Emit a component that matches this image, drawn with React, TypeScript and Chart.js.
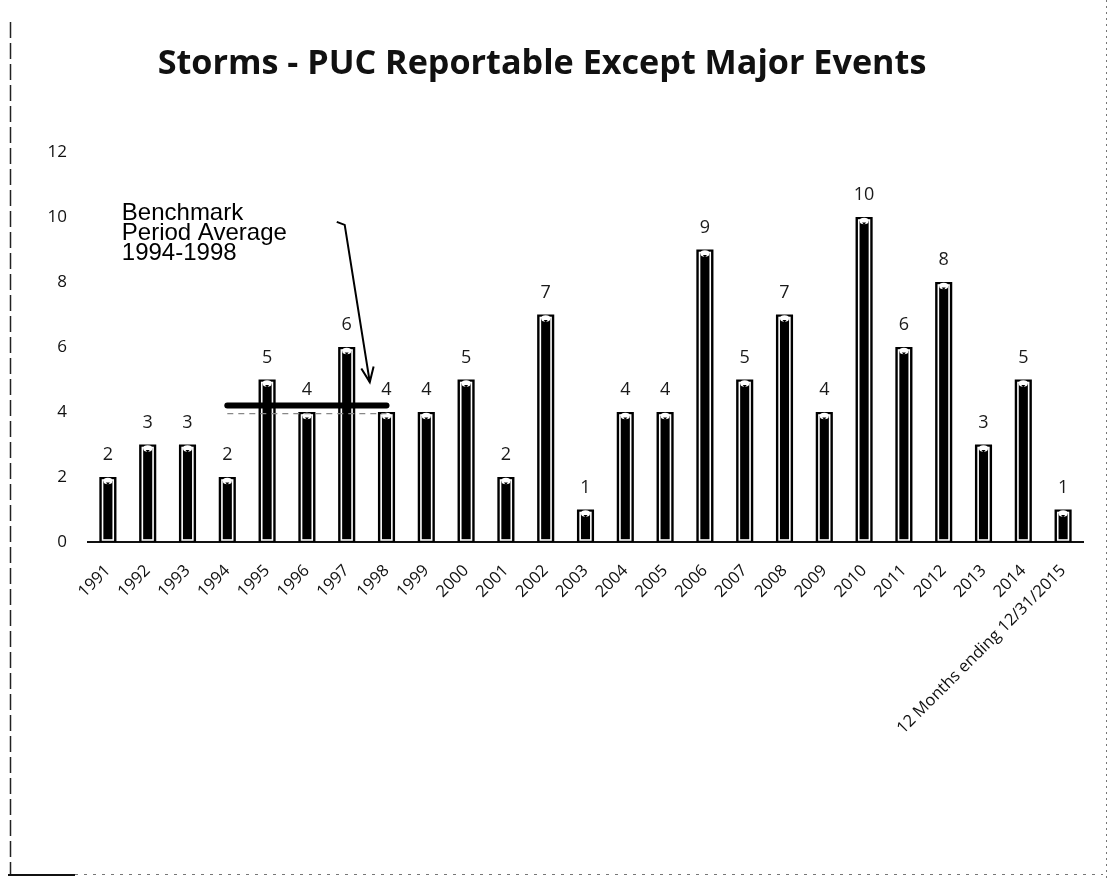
import React, { useEffect, useRef } from "react";
import { Chart, registerables } from "chart.js";

Chart.register(...registerables);

const TITLE = "Storms - PUC Reportable Except Major Events";
const categories = [
  "1991", "1992", "1993", "1994", "1995", "1996", "1997", "1998", "1999", "2000",
  "2001", "2002", "2003", "2004", "2005", "2006", "2007", "2008", "2009", "2010",
  "2011", "2012", "2013", "2014", "12 Months ending 12/31/2015",
];
const storms = [2, 3, 3, 2, 5, 4, 6, 4, 4, 5, 2, 7, 1, 4, 4, 9, 5, 7, 4, 10, 6, 8, 3, 5, 1];
const benchmarkYears = ["1994", "1995", "1996", "1997", "1998"];
const benchmarkAverage = 4.2;
const benchmarkShadow = 3.95;
const yTicks = [0, 2, 4, 6, 8, 10, 12];
const annotationLines = ["Benchmark", "Period Average", "1994-1998"];

const benchmarkData = categories.map((c) => (benchmarkYears.includes(c) ? benchmarkAverage : null));
const shadowData = categories.map((c) => (benchmarkYears.includes(c) ? benchmarkShadow : null));

const decorPlugin = {
  id: "decor",
  beforeDraw(chart: any) {
    const { ctx, width, height } = chart;
    ctx.save();
    ctx.fillStyle = "#fff";
    ctx.fillRect(0, 0, width, height);
    // frame
    ctx.strokeStyle = "#222";
    ctx.lineWidth = 1.5;
    ctx.setLineDash([16, 5]);
    ctx.beginPath();
    ctx.moveTo(10.5, 22);
    ctx.lineTo(10.5, height - 4);
    ctx.stroke();
    ctx.setLineDash([2, 4]);
    ctx.strokeStyle = "#777";
    ctx.lineWidth = 1;
    ctx.beginPath();
    ctx.moveTo(width - 6.5, 0);
    ctx.lineTo(width - 6.5, height);
    ctx.stroke();
    ctx.setLineDash([3, 6]);
    ctx.beginPath();
    ctx.moveTo(75, height - 3.5);
    ctx.lineTo(width - 10, height - 3.5);
    ctx.stroke();
    ctx.setLineDash([]);
    ctx.strokeStyle = "#111";
    ctx.lineWidth = 2;
    ctx.beginPath();
    ctx.moveTo(8, height - 3);
    ctx.lineTo(75, height - 3);
    ctx.stroke();
    // title
    ctx.fillStyle = "#111";
    ctx.textAlign = "center";
    ctx.textBaseline = "alphabetic";
    let size = 30;
    ctx.font = `bold ${size}px "Open Sans"`;
    const w = ctx.measureText(TITLE).width;
    size = (size * 769) / w;
    ctx.font = `bold ${size}px "Open Sans"`;
    ctx.fillText(TITLE, 542, 74);
    ctx.restore();
  },
  afterDatasetDraw(chart: any, args: any) {
    if (args.index !== 0) return;
    const { ctx } = chart;
    const meta = chart.getDatasetMeta(0);
    ctx.save();
    meta.data.forEach((bar: any, i: number) => {
      const p = bar.getProps(["x", "y", "base", "width"], true);
      const left = p.x - p.width / 2;
      const right = p.x + p.width / 2;
      ctx.strokeStyle = "#fff";
      ctx.lineWidth = 1.6;
      ctx.strokeRect(left + 3.2, p.y + 3, right - left - 6.4, p.base - p.y - 5);
      ctx.fillStyle = "#fff";
      ctx.beginPath();
      ctx.ellipse(p.x, p.y + 4, 4.5, 3.2, 0, 0, Math.PI * 2);
      ctx.fill();
      ctx.fillStyle = "#000";
      ctx.beginPath();
      ctx.moveTo(p.x - 2, p.y + 5.5);
      ctx.lineTo(p.x + 2, p.y + 5.5);
      ctx.lineTo(p.x, p.y + 8);
      ctx.closePath();
      ctx.fill();
      // value label
      ctx.fillStyle = "#1a1a1a";
      ctx.font = '18px "Open Sans"';
      ctx.textAlign = "center";
      ctx.textBaseline = "alphabetic";
      ctx.fillText(String(storms[i]), p.x, p.y - 17);
    });
    ctx.restore();
  },
  afterDraw(chart: any) {
    const { ctx, scales } = chart;
    const xs = scales.x;
    const ys = scales.y;
    ctx.save();
    // annotation text
    ctx.fillStyle = "#000";
    ctx.font = '24px "Liberation Sans", Arial, sans-serif';
    ctx.textAlign = "left";
    ctx.textBaseline = "alphabetic";
    const tx = xs.getPixelForValue(0.35);
    const ty = ys.getPixelForValue(9.9);
    annotationLines.forEach((t, i) => ctx.fillText(t, tx, ty + i * 20));
    // arrow
    const sx = xs.getPixelForValue(5.75);
    const sy = ys.getPixelForValue(9.85);
    const hx = xs.getPixelForValue(5.95);
    const ex = xs.getPixelForValue(6.58);
    const ey = ys.getPixelForValue(4.92);
    ctx.strokeStyle = "#000";
    ctx.lineWidth = 2;
    ctx.beginPath();
    ctx.moveTo(sx, sy);
    ctx.lineTo(hx, sy + 3);
    ctx.lineTo(ex, ey);
    ctx.stroke();
    const ang = Math.atan2(ey - (sy + 3), ex - hx);
    const len = 16;
    ctx.beginPath();
    ctx.moveTo(ex - len * Math.cos(ang - 0.4), ey - len * Math.sin(ang - 0.4));
    ctx.lineTo(ex, ey);
    ctx.lineTo(ex - len * Math.cos(ang + 0.4), ey - len * Math.sin(ang + 0.4));
    ctx.stroke();
    ctx.restore();
  },
};

export default function App() {
  const ref = useRef<HTMLCanvasElement | null>(null);
  useEffect(() => {
    if (!ref.current) return;
    const chart = new Chart(ref.current, {
      type: "bar",
      data: {
        labels: categories,
        datasets: [
          {
            type: "bar",
            data: storms,
            backgroundColor: "#000",
            borderColor: "#000",
            borderWidth: 0,
            categoryPercentage: 1,
            barPercentage: 0.43,
            order: 2,
          } as any,
          {
            type: "line",
            data: shadowData,
            borderColor: "#888",
            borderWidth: 1.2,
            borderDash: [6, 5],
            pointRadius: 0,
            spanGaps: false,
            order: 1,
          } as any,
          {
            type: "line",
            data: benchmarkData,
            borderColor: "#000",
            borderWidth: 6,
            borderCapStyle: "round",
            pointRadius: 0,
            spanGaps: false,
            order: 0,
          } as any,
        ],
      },
      options: {
        animation: false,
        responsive: false,
        layout: { padding: { left: 20, right: 30, top: 152, bottom: 0 } },
        plugins: {
          legend: { display: false },
          title: { display: false },
          tooltip: { enabled: false },
        },
        scales: {
          x: {
            grid: { display: false, drawTicks: false },
            border: { display: true, color: "#111", width: 2, dash: [7, 9] },
            ticks: {
              minRotation: 45,
              maxRotation: 45,
              autoSkip: false,
              padding: 19,
              color: "#111",
              font: { family: '"Open Sans"', size: 16.5 },
            },
            afterFit(scale: any) {
              scale.height = 336;
            },
          },
          y: {
            min: 0,
            max: 12,
            afterBuildTicks(scale: any) {
              scale.ticks = yTicks.map((v) => ({ value: v }));
            },
            grid: { display: false, drawTicks: false },
            border: { display: false },
            ticks: {
              padding: 21,
              color: "#111",
              font: { family: '"Open Sans"', size: 17 },
            },
            afterFit(scale: any) {
              scale.width = 68;
            },
          },
        },
      },
      plugins: [decorPlugin],
    } as any);
    return () => chart.destroy();
  }, []);
  return (
    <div style={{ position: "absolute", left: 0, top: 0, width: 1113, height: 878 }}>
      <canvas ref={ref} width={1113} height={878} style={{ display: "block" }} />
    </div>
  );
}
